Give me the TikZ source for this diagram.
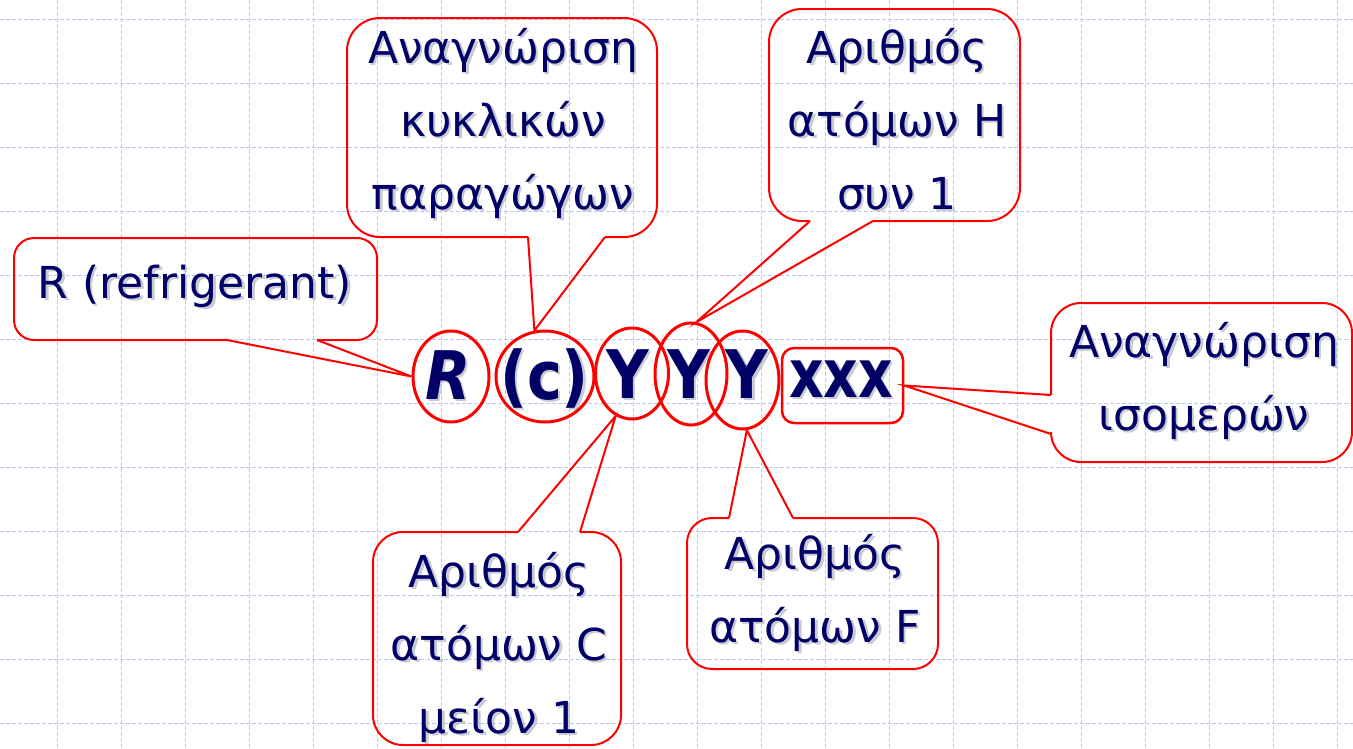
\documentclass[tikz,border=0pt]{standalone}
\usepackage{fontspec}
\setmainfont{DejaVu Sans}
\newfontfamily\letterfont{DejaVu Sans}[FakeStretch=0.88]
\newfontfamily\narrowfont{DejaVu Sans}[FakeStretch=0.80]
\usetikzlibrary{shapes.geometric,calc}
\definecolor{ink}{RGB}{0,0,102}
\definecolor{inkshade}{RGB}{185,185,198}
\definecolor{gridblue}{RGB}{188,202,250}
\definecolor{markred}{RGB}{255,0,0}
\tikzset{
  grid line/.style={gridblue, line width=1pt, dash pattern=on 4pt off 2pt},
  ring/.style={ellipse, draw=markred, line width=3pt, inner sep=0pt},
  balloon/.style={draw=markred, line width=2pt, line join=miter},
  label text/.style={text=ink, font=\fontsize{44}{73}\selectfont, align=center, inner sep=0pt, anchor=base},
  letter/.style={text=ink, font=\letterfont\fontsize{67}{67}\selectfont\bfseries, inner sep=0pt, anchor=base},
  shade/.style={text=inkshade, opacity=0.75}
}
% text with a soft drop shadow: #1 name, #2 style, #3 position, #4 text
\newcommand{\shadedtext}[4]{%
  \node[#2, shade] (#1-shade) at ($(#3)+(2.5,2.5)$) {#4};
  \node[#2] (#1) at (#3) {#4};
}
\begin{document}
\begin{tikzpicture}[x=1pt,y=-1pt]
\useasboundingbox (0,0) rectangle (1353,748);
\fill[white] (0,0) rectangle (1353,748);
% background grid
\foreach \gx in {57,121,...,1340} \draw[grid line] (\gx,0) -- (\gx,748);
\foreach \gy in {19,83,...,748} \draw[grid line] (0,\gy) -- (1353,\gy);

% marked parts of the code
\shadedtext{lR}{letter}{448,399}{\itshape R}
\shadedtext{lC}{letter}{544.5,399}{(c)}
\shadedtext{lY1}{letter}{627.5,398}{Y}
\shadedtext{lY2}{letter}{688.5,398}{Y}
\shadedtext{lY3}{letter}{747,398}{Y}
\shadedtext{lX}{letter}{841,397}{\narrowfont\fontsize{67}{67}\selectfont\bfseries xxx}

\node[ring, minimum width=76pt, minimum height=91pt] (eR) at (451,376.5) {};
\node[ring, minimum width=98pt, minimum height=91pt] (eC) at (545,376.5) {};
\node[ring, minimum width=73pt, minimum height=91pt] (eY1) at (632,373.5) {};
\node[ring, minimum width=72pt, minimum height=102pt] (eY2) at (691,374) {};
\node[ring, minimum width=73pt, minimum height=98pt] (eY3) at (742.5,380) {};
\node[draw=markred, line width=2.5pt, rounded corners=12pt, minimum width=121pt, minimum height=75pt, inner sep=0pt] (xb) at (842.5,385.5) {};

% callout texts
\shadedtext{tR}{label text}{195,298}{R (refrigerant)}
\shadedtext{tCyc}{label text}{503,209}{Αναγνώριση\\κυκλικών\\παραγώγων}
\shadedtext{tH}{label text}{897,209}{Αριθμός\\ατόμων H\\συν 1}
\shadedtext{tIso}{label text}{1204,430}{Αναγνώριση\\ισομερών}
\shadedtext{tCm}{label text}{499,733}{Αριθμός\\ατόμων C\\μείον 1}
\shadedtext{tF}{label text}{815,642}{Αριθμός\\ατόμων F}

% callout outlines and pointers
\draw[balloon, rounded corners=20pt] (227,340) -- (14,340) -- (14,238) -- (377,238) -- (377,340) -- (317,340);
\draw[balloon] (317,340) -- (eR.west) -- (227,340);

\draw[balloon, rounded corners=33pt] (528,237) -- (347,237) -- (347,18) -- (657,18) -- (657,237) -- (605,237);
\draw[balloon] (605,237) -- (eC.103) -- (528,237);

\draw[balloon, rounded corners=33pt] (810,221) -- (769,221) -- (769,9) -- (1020,9) -- (1020,221) -- (873,221);
\draw[balloon] (873,221) -- (eY2.84) -- (810,221);

\draw[balloon, rounded corners=30pt] (1051,395) -- (1051,303) -- (1352,303) -- (1352,462) -- (1051,462) -- (1051,434);
\draw[balloon] (1051,434) -- (xb.east) -- (1051,395);

\draw[balloon, rounded corners=30pt] (580,532) -- (621,532) -- (621,745) -- (373,745) -- (373,532) -- (518,532);
\draw[balloon] (518,532) -- (eY1.249) -- (580,532);

\draw[balloon, rounded corners=25pt] (793,518) -- (938,518) -- (938,669) -- (687,669) -- (687,518) -- (729,518);
\draw[balloon] (729,518) -- (eY3.275) -- (793,518);
\end{tikzpicture}
\end{document}
